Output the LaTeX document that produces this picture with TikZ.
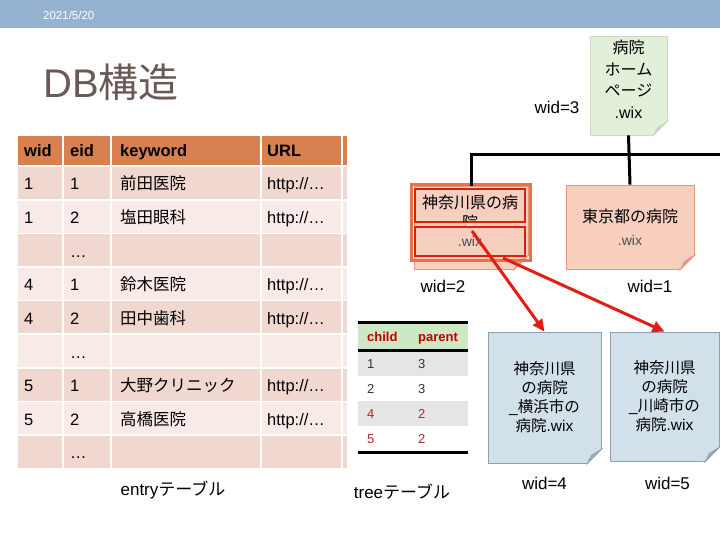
\documentclass[tikz,border=0pt]{standalone}
\usepackage{fontspec}
\setmainfont{Liberation Sans}
\newfontfamily\jp{Noto Sans CJK JP}
\usetikzlibrary{positioning,calc,arrows.meta}

\definecolor{barblue}{RGB}{149,179,208}
\definecolor{titlegray}{RGB}{105,90,85}
\definecolor{headorange}{RGB}{217,128,80}
\definecolor{rowdark}{RGB}{240,215,207}
\definecolor{rowlight}{RGB}{248,235,231}
\definecolor{treegreen}{RGB}{204,232,196}
\definecolor{treegray}{RGB}{229,229,229}
\definecolor{treered}{RGB}{192,0,0}
\definecolor{rowred}{RGB}{175,40,40}
\definecolor{notegreen}{RGB}{226,240,217}
\definecolor{notegreenline}{RGB}{200,222,190}
\definecolor{foldgreen}{RGB}{200,210,195}
\definecolor{notepink}{RGB}{248,206,191}
\definecolor{notepinkline}{RGB}{222,152,128}
\definecolor{foldpink}{RGB}{225,160,140}
\definecolor{noteblue}{RGB}{210,224,234}
\definecolor{noteblueline}{RGB}{140,162,178}
\definecolor{foldblue}{RGB}{160,175,185}
\definecolor{selorange}{RGB}{236,112,70}
\definecolor{selred}{RGB}{214,34,14}
\definecolor{arrowred}{RGB}{226,30,20}

\newcommand\urltxt{http://…}
% folded corner at the south east of a note
\newcommand\dogear[3]{%
  \fill[white] ($(#1.south east)+(-14,0.8)$) -- ($(#1.south east)+(0.8,0.8)$)
    -- ($(#1.south east)+(0.8,-14)$) -- cycle;
  \filldraw[fill=#2, draw=#3, line width=0.8pt] ($(#1.south east)+(-14,0)$)
    -- ($(#1.south east)+(0,-14)$) -- ($(#1.south east)+(-10,-8)$) -- cycle;
}

\begin{document}
\begin{tikzpicture}[x=1pt, y=-1pt,
    cell/.style={anchor=base west, inner sep=0pt, font=\fontsize{16.5}{20}\selectfont},
    headcell/.style={cell, font=\fontsize{16.5}{20}\selectfont\bfseries},
    treecell/.style={anchor=base west, inner sep=0pt, text=black!80, font=\fontsize{13}{16}\selectfont},
    note/.style={rectangle, draw, line width=0.8pt, align=center, inner sep=0pt},
    notetext/.style={font=\fontsize{16}{21.5}\selectfont},
    widlabel/.style={inner sep=0pt, font=\fontsize{17}{20}\selectfont},
    treeline/.style={line width=3pt},
    redarrow/.style={-{Triangle[length=12pt,width=11pt]}, line width=3pt, arrowred},
    selbox/.style={rectangle, draw=selred, line width=2.5pt, fill=notepink,
      minimum width=110pt, inner sep=0pt}]
  \useasboundingbox (0,0) rectangle (720,540);

  % header bar and title
  \fill[barblue] (0,0) rectangle (720,28);
  \node[anchor=west, inner sep=0pt, text=white, font=\fontsize{11.5}{13}\selectfont] (date) at (43,15) {2021/5/20};
  \node[anchor=west, inner sep=0pt, text=titlegray, font=\fontsize{40}{44}\selectfont] (title) at (43,82) {DB{\jp 構造}};

  % entry table
  \foreach \xa/\xb in {18/62,64/110,112/260,262/341,343/347}
    \fill[headorange] (\xa,136) rectangle (\xb,165);
  \node[headcell] (hw) at (24,157) {wid};
  \node[headcell] (he) at (70,157) {eid};
  \node[headcell] (hk) at (120,157) {keyword};
  \node[headcell] (hu) at (267,157) {URL};
  \foreach \cw/\ce/\ck/\cu [count=\i, evaluate=\i as \ytop using {167+33.6*(\i-1)}] in
    {1/1/前田医院/\urltxt, 1/2/塩田眼科/\urltxt, {}/…/{}/{},
     4/1/鈴木医院/\urltxt, 4/2/田中歯科/\urltxt, {}/…/{}/{},
     5/1/大野クリニック/\urltxt, 5/2/高橋医院/\urltxt, {}/…/{}/{}} {
    \ifodd\i \def\rc{rowdark}\else\def\rc{rowlight}\fi
    \foreach \xa/\xb in {18/62,64/110,112/260,262/341,343/347}
      \fill[\rc] (\xa,\ytop) rectangle (\xb,\ytop+32);
    \node[cell] (w\i) at (24,\ytop+23) {\cw};
    \node[cell] (e\i) at (70,\ytop+23) {\ce};
    \node[cell] (k\i) at (120,\ytop+23) {\jp\ck};
    \node[cell] (u\i) at (267,\ytop+23) {\cu};
  }
  \node[inner sep=0pt, font=\fontsize{17}{20}\selectfont] (entrycap) at (173,490) {entry{\jp テーブル}};

  % tree table
  \fill[treegreen] (358,323) rectangle (468,349);
  \fill[treegray] (358,351) rectangle (468,376);
  \fill[treegray] (358,401) rectangle (468,426);
  \draw[line width=3pt] (358,322) -- (468,322);
  \draw[line width=3pt] (358,350) -- (468,350);
  \draw[line width=3pt] (358,452) -- (468,452);
  \node[treecell, text=treered, font=\fontsize{13}{16}\selectfont\bfseries] (hc) at (367,341) {child};
  \node[treecell, text=treered, font=\fontsize{13}{16}\selectfont\bfseries] (hp) at (418,341) {parent};
  \foreach \c/\p/\col [count=\i, evaluate=\i as \ym using {368+25*(\i-1)}] in
    {1/3/black!80, 2/3/black!80, 4/2/rowred, 5/2/rowred} {
    \node[treecell, text=\col] (c\i) at (367,\ym) {\c};
    \node[treecell, text=\col] (p\i) at (418,\ym) {\p};
  }
  \node[inner sep=0pt, font=\fontsize{17}{20}\selectfont] (treecap) at (402,492) {tree{\jp テーブル}};

  % notes
  \node[note, notetext, fill=notegreen, draw=notegreenline, minimum width=77pt,
    minimum height=99pt, text depth=12pt] (home) at (628.5,85.5)
    {{\jp 病院}\\{\jp ホーム}\\{\jp ページ}\\.wix};
  \dogear{home}{foldgreen}{notegreenline}
  \node[widlabel] (wid3) at (557,107) {wid=3};

  \node[note, fill=notepink, draw=notepinkline, minimum width=128pt, minimum height=84pt,
    align=center, font=\fontsize{16}{21}\selectfont] (tokyo) at (630,227)
    {{\jp 東京都の病院}\\[2pt]{\fontsize{14}{17}\selectfont\color{black!70}.wix}};
  \dogear{tokyo}{foldpink}{notepinkline}
  \node[widlabel] (wid1) at (650,286) {wid=1};

  \node[note, fill=notepink, draw=notepinkline, minimum width=114pt, minimum height=83pt] (kana) at (471,227.5) {};
  \dogear{kana}{foldpink}{notepinkline}
  \draw[selorange, line width=2.5pt] ($(kana.north west)+(-2,-1)$) rectangle ($(kana.south east)+(2,-9)$);
  \node[selbox, minimum height=33pt] (kana1) at (470,205.5) {};
  \begin{scope}
    \clip ($(kana1.south west)+(1.5,-1.5)$) rectangle ($(kana1.north east)+(-1.5,1.5)$);
    \node[notetext, align=center, font=\jp\fontsize{16}{20}\selectfont] (kana1txt) at (470,212) {神奈川県の病\\院};
  \end{scope}
  \node[selbox, minimum height=29pt, text=black!70, font=\fontsize{14}{17}\selectfont] (kana2) at (470,241.5) {.wix};
  \node[widlabel] (wid2) at (443,286) {wid=2};

  \node[note, fill=noteblue, draw=noteblueline, minimum width=113pt, minimum height=131pt,
    font=\fontsize{15.5}{19}\selectfont] (blue4) at (544.5,397.5)
    {{\jp 神奈川県}\\{\jp の病院}\\\_{\jp 横浜市の}\\{\jp 病院}.wix};
  \dogear{blue4}{foldblue}{noteblueline}
  \node[widlabel, below=14pt of blue4] (wid4) {wid=4};

  \node[note, fill=noteblue, draw=noteblueline, minimum width=109pt, minimum height=129pt,
    font=\fontsize{15.5}{19}\selectfont] (blue5) at (664.5,396.5)
    {{\jp 神奈川県}\\{\jp の病院}\\\_{\jp 川崎市の}\\{\jp 病院}.wix};
  \dogear{blue5}{foldblue}{noteblueline}
  \node[widlabel, below=16pt of blue5, xshift=3pt] (wid5) {wid=5};

  % tree connectors
  \coordinate (busend) at (720,155);
  \draw[treeline] (kana.north) |- (busend);
  \draw[treeline] (home.south) -- (tokyo.north);

  % red arrows
  \coordinate (kanaA) at (472,231);
  \coordinate (kanaB) at (503,258);
  \draw[redarrow] (kanaA) -- (blue4.north);
  \draw[redarrow] (kanaB) -- (blue5.north);
\end{tikzpicture}
\end{document}
